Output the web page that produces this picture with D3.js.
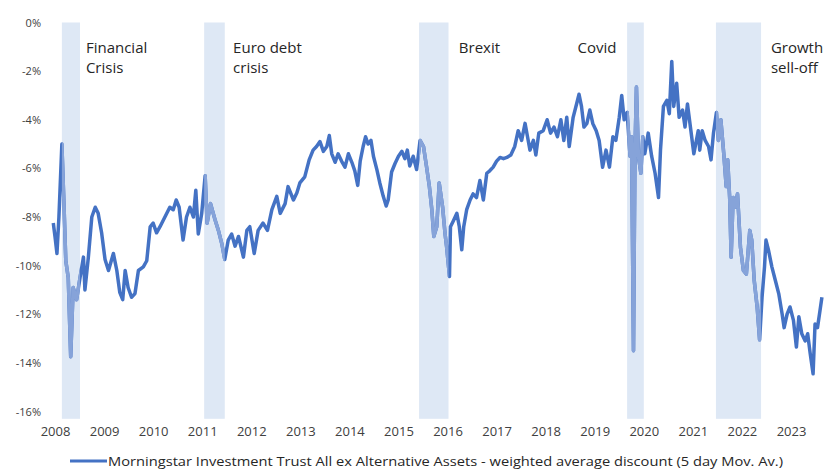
<!DOCTYPE html>
<html>
<head>
<meta charset="utf-8">
<script src="https://cdn.jsdelivr.net/npm/d3@7"></script>
<style>
  body { margin: 0; background: #fff; }
  text { font-family: "Open Sans", sans-serif; }
</style>
</head>
<body>
<div id="chart"></div>
<script>
const width = 827;
const height = 470;

// decimal years
const dates = [
  2007.965, 2008.00, 2008.04, 2008.08, 2008.14, 2008.18, 2008.22, 2008.27, 2008.32, 2008.37,
  2008.44, 2008.51, 2008.58, 2008.61, 2008.68, 2008.75, 2008.82, 2008.88, 2008.95, 2009.02,
  2009.09, 2009.19, 2009.26, 2009.32, 2009.38, 2009.43, 2009.49, 2009.56, 2009.63, 2009.70,
  2009.80, 2009.87, 2009.94, 2010.00, 2010.07, 2010.14, 2010.24, 2010.34, 2010.41, 2010.47,
  2010.53, 2010.61, 2010.68, 2010.75, 2010.82, 2010.87, 2010.92, 2010.99, 2011.06, 2011.10,
  2011.17, 2011.26, 2011.33, 2011.40, 2011.46, 2011.53, 2011.60, 2011.67, 2011.74, 2011.84,
  2011.91, 2011.97, 2012.06, 2012.14, 2012.24, 2012.33, 2012.42, 2012.52, 2012.59, 2012.69,
  2012.75, 2012.86, 2012.93, 2012.99, 2013.09, 2013.18, 2013.26, 2013.33, 2013.40, 2013.47,
  2013.54, 2013.59, 2013.64, 2013.71, 2013.77, 2013.84, 2013.91, 2013.98, 2014.05, 2014.11,
  2014.17, 2014.22, 2014.28, 2014.33, 2014.38, 2014.44, 2014.49, 2014.56, 2014.62, 2014.69,
  2014.75, 2014.79, 2014.86, 2014.93, 2015.00, 2015.07, 2015.13, 2015.18, 2015.23, 2015.30,
  2015.37, 2015.44, 2015.51, 2015.57, 2015.63, 2015.68, 2015.72, 2015.78, 2015.83, 2015.90,
  2015.95, 2015.98, 2016.04, 2016.06, 2016.12, 2016.19, 2016.24, 2016.29, 2016.33, 2016.39,
  2016.46, 2016.52, 2016.59, 2016.66, 2016.73, 2016.80, 2016.86, 2016.93, 2017.00, 2017.07,
  2017.14, 2017.21, 2017.29, 2017.37, 2017.44, 2017.51, 2017.58, 2017.63, 2017.68, 2017.75,
  2017.80, 2017.86, 2017.95, 2018.03, 2018.10, 2018.17, 2018.24, 2018.31, 2018.37, 2018.43,
  2018.48, 2018.56, 2018.63, 2018.68, 2018.73, 2018.78, 2018.84, 2018.90, 2018.96, 2019.03,
  2019.09, 2019.16, 2019.23, 2019.30, 2019.37, 2019.43, 2019.50, 2019.55, 2019.60, 2019.66,
  2019.72, 2019.75, 2019.79, 2019.82, 2019.85, 2019.89, 2019.94, 2019.98, 2020.02, 2020.09,
  2020.16, 2020.23, 2020.30, 2020.34, 2020.40, 2020.47, 2020.52, 2020.57, 2020.61, 2020.67,
  2020.72, 2020.79, 2020.84, 2020.89, 2020.95, 2021.02, 2021.11, 2021.14, 2021.19, 2021.25,
  2021.32, 2021.37, 2021.42, 2021.48, 2021.52, 2021.57, 2021.63, 2021.68, 2021.71, 2021.75,
  2021.78, 2021.82, 2021.86, 2021.91, 2021.97, 2022.03, 2022.09, 2022.16, 2022.20, 2022.25,
  2022.31, 2022.36, 2022.41, 2022.46, 2022.49, 2022.54, 2022.61, 2022.68, 2022.75, 2022.82,
  2022.86, 2022.92, 2022.98, 2023.05, 2023.11, 2023.16, 2023.22, 2023.29, 2023.34, 2023.39,
  2023.45, 2023.49, 2023.54, 2023.58, 2023.63
];

// weighted average discount, %
const discount = [
  -8.25, -8.8, -9.5, -8.0, -5.0, -7.3, -9.8, -10.5, -13.75, -10.9,
  -11.4, -10.5, -9.65, -11.0, -9.65, -8.0, -7.6, -7.85, -8.65, -9.75,
  -10.2, -9.5, -10.2, -11.1, -11.4, -10.2, -10.9, -11.3, -11.15, -10.2,
  -10.05, -9.8, -8.4, -8.25, -8.65, -8.4, -8.0, -7.6, -7.7, -7.3,
  -7.6, -8.95, -8.0, -7.6, -8.0, -6.9, -8.7, -7.85, -6.3, -8.25,
  -7.45, -8.1, -8.55, -9.1, -9.75, -8.95, -8.7, -9.2, -8.8, -9.65,
  -8.55, -8.4, -9.5, -8.55, -8.25, -8.55, -7.7, -7.15, -7.85, -7.45,
  -6.75, -7.3, -7.0, -6.6, -6.35, -5.65, -5.25, -5.1, -4.9, -5.3,
  -5.1, -4.65, -5.4, -5.75, -5.4, -5.7, -5.95, -5.4, -5.75, -6.1,
  -6.7, -5.7, -5.1, -4.7, -5.0, -4.85, -5.5, -6.05, -6.6, -7.15,
  -7.55, -7.3, -6.15, -5.8, -5.5, -5.3, -5.6, -5.25, -5.9, -5.5,
  -6.05, -4.85, -5.1, -5.9, -6.75, -7.7, -8.8, -8.4, -6.6, -7.6,
  -8.7, -9.2, -10.45, -8.4, -8.15, -7.85, -8.4, -9.35, -8.4, -7.7,
  -7.3, -7.05, -7.2, -6.5, -7.3, -6.2, -6.1, -5.95, -5.7, -5.55,
  -5.6, -5.55, -5.45, -5.1, -4.45, -4.85, -4.15, -4.7, -5.25, -4.85,
  -5.45, -4.55, -4.45, -4.0, -4.55, -4.3, -4.7, -4.0, -4.85, -3.9,
  -5.1, -3.9, -3.35, -2.95, -3.45, -4.3, -4.15, -3.6, -4.15, -4.45,
  -4.85, -5.95, -5.25, -5.95, -4.7, -4.85, -3.9, -3.0, -4.0, -3.7,
  -5.5, -4.7, -13.5, -5.25, -2.65, -5.5, -6.2, -4.7, -5.4, -4.55,
  -5.5, -6.2, -7.2, -5.25, -3.45, -3.2, -3.75, -1.6, -3.45, -2.5,
  -3.9, -3.6, -4.3, -3.35, -4.3, -5.4, -4.45, -5.25, -4.45, -4.85,
  -5.1, -5.65, -4.55, -3.7, -4.85, -4.0, -5.4, -6.75, -5.65, -7.2,
  -9.65, -7.2, -7.6, -7.05, -9.25, -10.2, -10.35, -8.55, -8.95, -10.6,
  -11.7, -13.05, -11.3, -10.05, -8.95, -9.35, -10.05, -10.6, -11.15, -12.0,
  -12.55, -12.0, -11.7, -12.25, -13.35, -12.1, -12.8, -13.1, -12.8, -13.6,
  -14.45, -12.4, -12.55, -12.0, -11.3
];

// stress periods (shaded) and where their labels sit
const periodNames = [['Financial', 'Crisis'], ['Euro debt', 'crisis'], ['Brexit'], ['Covid'], ['Growth', 'sell-off']];
const periodStart = [2008.14, 2011.04, 2015.42, 2019.66, 2021.47];
const periodEnd = [2008.51, 2011.46, 2016.02, 2020.00, 2022.39];
const labelAt = [2008.63, 2011.63, 2016.23, 2018.65, 2022.59];

const yTicks = [0, -2, -4, -6, -8, -10, -12, -14, -16];
const years = d3.range(2008, 2024);
const legendLabel = 'Morningstar Investment Trust All ex Alternative Assets - weighted average discount (5 day Mov. Av.)';

const dark = '#4472c4';
const light = '#86a3d9';
const shade = '#dee8f5';

const x = d3.scaleLinear().domain([2008, 2023]).range([55, 791]);
const y = d3.scaleLinear().domain([0, -16]).range([22.5, 411.5]);

const svg = d3.select('#chart').append('svg').attr('width', width).attr('height', height);

const periods = periodStart.map((s, i) => ({start: s, end: periodEnd[i], name: periodNames[i], at: labelAt[i]}));

// shading bars
svg.append('g')
    .selectAll('rect')
    .data(periods)
    .join('rect')
    .attr('x', d => x(d.start))
    .attr('width', d => x(d.end) - x(d.start))
    .attr('y', y(0))
    .attr('height', y(-16.3) - y(0))
    .attr('fill', shade);

svg.append('clipPath').attr('id', 'periodClip')
    .selectAll('rect')
    .data(periods)
    .join('rect')
    .attr('x', d => x(d.start))
    .attr('width', d => x(d.end) - x(d.start))
    .attr('y', 0)
    .attr('height', height);

// axes
const yAxis = svg.append('g')
    .attr('transform', 'translate(44,0)')
    .call(d3.axisLeft(y).tickValues(yTicks).tickSize(0).tickPadding(3).tickFormat(d => d + '%'));
yAxis.select('.domain').remove();
yAxis.selectAll('text').attr('font-size', 11).attr('fill', '#404040').style('font-family', '"Open Sans", sans-serif');

const xAxis = svg.append('g')
    .attr('transform', 'translate(0,424)')
    .call(d3.axisBottom(x).tickValues(years).tickSize(0).tickPadding(3).tickFormat(d3.format('d')));
xAxis.select('.domain').remove();
xAxis.selectAll('text').attr('font-size', 13).attr('fill', '#404040').style('font-family', '"Open Sans", sans-serif');

// series
const pts = dates.map((d, i) => [d, discount[i]]);
const line = d3.line().x(d => x(d[0])).y(d => y(d[1]));

svg.append('path')
    .datum(pts)
    .attr('d', line)
    .attr('fill', 'none')
    .attr('stroke', dark)
    .attr('stroke-width', 3.5)
    .attr('stroke-linejoin', 'round');

svg.append('path')
    .datum(pts)
    .attr('d', line)
    .attr('fill', 'none')
    .attr('stroke', light)
    .attr('stroke-width', 3.5)
    .attr('stroke-linejoin', 'round')
    .attr('clip-path', 'url(#periodClip)');

// annotations
const ann = svg.append('g')
    .selectAll('text')
    .data(periods)
    .join('text')
    .attr('x', d => x(d.at))
    .attr('y', 52.5)
    .attr('font-size', 15)
    .attr('fill', '#262626');
ann.selectAll('tspan')
    .data(d => d.name)
    .join('tspan')
    .attr('x', function() { return this.parentNode.getAttribute('x'); })
    .attr('dy', (d, i) => i === 0 ? 0 : 20.5)
    .text(d => d);

// legend
svg.append('line')
    .attr('x1', 70).attr('x2', 107)
    .attr('y1', 461).attr('y2', 461)
    .attr('stroke', dark).attr('stroke-width', 3);
svg.append('text')
    .attr('x', 108)
    .attr('y', 465.5)
    .attr('font-size', 13.5)
    .attr('fill', '#262626')
    .attr('textLength', 675)
    .attr('lengthAdjust', 'spacingAndGlyphs')
    .text(legendLabel);
</script>
</body>
</html>
